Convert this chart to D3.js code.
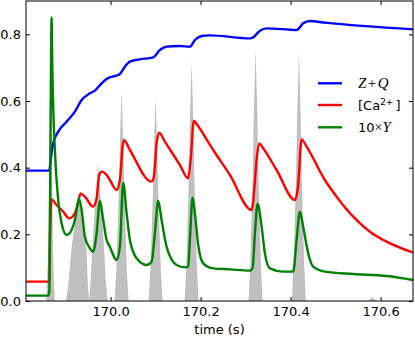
<!DOCTYPE html>
<html>
<head>
<meta charset="utf-8">
<script src="https://cdn.jsdelivr.net/npm/d3@7"></script>
<style>
  body { margin: 0; background: #fff; }
  svg text { font-family: "DejaVu Sans", sans-serif; }
</style>
</head>
<body>
<svg id="chart" width="415" height="338"></svg>
<script>
// tick labels
const xTicks = [170.0, 170.2, 170.4, 170.6];
const yTicks = [0.0, 0.2, 0.4, 0.6, 0.8];

// Z+Q (blue)
const zqTime = [169.812, 169.8636, 169.8665, 169.8724, 169.8836, 169.9022, 169.9207, 169.9356, 169.954, 169.9651,
  169.98, 169.9911, 169.9984, 170.0096, 170.0207, 170.0318, 170.0429, 170.0651, 170.0947, 170.1096,
  170.1244, 170.154, 170.1762, 170.1873, 170.2022, 170.2207, 170.3096, 170.3169, 170.3318, 170.3467,
  170.4133, 170.428, 170.4429, 170.4762, 170.6724];
const zqValue = [0.391, 0.391, 0.42, 0.473, 0.508, 0.538, 0.568, 0.603, 0.623, 0.631,
  0.653, 0.666, 0.671, 0.675, 0.681, 0.703, 0.718, 0.725, 0.731, 0.753,
  0.763, 0.765, 0.763, 0.783, 0.795, 0.797, 0.788, 0.791, 0.811, 0.818,
  0.813, 0.833, 0.840, 0.835, 0.815];

// [Ca2+] (red)
const caTime = [169.812, 169.864, 169.8655, 169.8689, 169.88, 169.8947, 169.908, 169.9169, 169.9258, 169.9333,
  169.9429, 169.9613, 169.9689, 169.9747, 169.98, 169.9911, 169.9984, 170.0133, 170.0207, 170.0267,
  170.0296, 170.0429, 170.0911, 170.0962, 170.1022, 170.108, 170.1207, 170.154, 170.1724, 170.1778,
  170.1851, 170.1911, 170.228, 170.2651, 170.3133, 170.3169, 170.3244, 170.3302, 170.3391, 170.3689,
  170.4096, 170.4169, 170.4244, 170.4356, 170.4762, 170.5022, 170.5391, 170.5762, 170.6133, 170.6724];
const caValue = [0.058, 0.058, 0.2, 0.305, 0.288, 0.268, 0.248, 0.255, 0.283, 0.323,
  0.313, 0.283, 0.308, 0.378, 0.388, 0.378, 0.363, 0.333, 0.363, 0.463,
  0.483, 0.453, 0.358, 0.373, 0.473, 0.505, 0.478, 0.408, 0.368, 0.423,
  0.541, 0.531, 0.453, 0.378, 0.273, 0.30, 0.423, 0.473, 0.458, 0.393,
  0.303, 0.348, 0.485, 0.463, 0.363, 0.313, 0.253, 0.208, 0.178, 0.145];

// 10 x Y (green)
const yTime = [169.812, 169.8613, 169.864, 169.8665, 169.8689, 169.8705, 169.8762, 169.8836, 169.8911, 169.9022,
  169.9133, 169.9207, 169.9296, 169.9356, 169.9429, 169.954, 169.9613, 169.9689, 169.9762, 169.9836,
  169.9911, 169.9984, 170.0096, 170.0133, 170.0207, 170.028, 170.0356, 170.0429, 170.0578, 170.08,
  170.0911, 170.0984, 170.1058, 170.1133, 170.1244, 170.1467, 170.1651, 170.1724, 170.1762, 170.1822,
  170.1873, 170.1947, 170.2058, 170.228, 170.2651, 170.3096, 170.3156, 170.3207, 170.3267, 170.3356,
  170.3429, 170.354, 170.3836, 170.4058, 170.4133, 170.4207, 170.428, 170.4391, 170.4502, 170.4762,
  170.5391, 170.6133, 170.6724];
const yValue = [0.016, 0.016, 0.03, 0.5, 0.851, 0.70, 0.453, 0.303, 0.233, 0.198,
  0.213, 0.243, 0.308, 0.273, 0.193, 0.158, 0.148, 0.203, 0.300, 0.243,
  0.183, 0.163, 0.128, 0.123, 0.163, 0.355, 0.263, 0.183, 0.128, 0.108,
  0.118, 0.203, 0.301, 0.243, 0.163, 0.108, 0.101, 0.103, 0.183, 0.311,
  0.263, 0.168, 0.113, 0.098, 0.095, 0.091, 0.10, 0.203, 0.291, 0.223,
  0.143, 0.098, 0.088, 0.088, 0.183, 0.268, 0.223, 0.143, 0.103, 0.088,
  0.081, 0.075, 0.063];

// grey histogram spikes
const spikeTime = [
  169.857, 169.8605, 169.8638, 169.865, 169.8665, 169.868, 169.8692, 169.8725, 169.876,
  169.9007, 169.9056, 169.9129, 169.9207, 169.9296, 169.9385, 169.9463, 169.9496, 169.9524,
  169.9554, 169.9614, 169.9684, 169.9724, 169.9764, 169.9834, 169.9894, 169.9935,
  170.0088, 170.0126, 170.0181, 170.0207, 170.0244, 170.0281, 170.0307, 170.0362, 170.04,
  170.0844, 170.0882, 170.0937, 170.0963, 170.1, 170.1037, 170.1063, 170.1118, 170.1156,
  170.1644, 170.1682, 170.1737, 170.1763, 170.18, 170.1837, 170.1863, 170.1918, 170.1956,
  170.3066, 170.3104, 170.3159, 170.3185, 170.3222, 170.3259, 170.3285, 170.334, 170.3378,
  170.4028, 170.4066, 170.4121, 170.4147, 170.4184, 170.4221, 170.4247, 170.4302, 170.434,
  170.5718, 170.5818, 170.5918];
const spikeValue = [
  0, 0.12, 0.42, 0.63, 0.84, 0.63, 0.42, 0.12, 0,
  0, 0.043, 0.155, 0.233, 0.31, 0.233, 0.155, 0.043, 0,
  0.06, 0.205, 0.34, 0.41, 0.34, 0.205, 0.06, 0,
  0, 0.088, 0.314, 0.471, 0.628, 0.471, 0.314, 0.088, 0,
  0, 0.085, 0.305, 0.458, 0.61, 0.458, 0.305, 0.085, 0,
  0, 0.10, 0.36, 0.54, 0.72, 0.54, 0.36, 0.10, 0,
  0, 0.106, 0.379, 0.569, 0.758, 0.569, 0.379, 0.106, 0,
  0, 0.105, 0.374, 0.561, 0.748, 0.561, 0.374, 0.105, 0,
  0, 0.012, 0];

const seriesColors = ['#0000ff', '#ff0000', '#008000'];

/* Layout */
const plotL = 26, plotR = 413, plotT = 1, plotB = 301;
const svg = d3.select('#chart');

const x = d3.scaleLinear().domain([169.812, 170.672]).range([plotL, plotR]);
const y = d3.scaleLinear().domain([0, 0.9]).range([plotB, plotT]);

const zip = (ts, vs) => ts.map((t, i) => [t, vs[i]]);

// grey spikes
svg.append('path')
  .datum(zip(spikeTime, spikeValue))
  .attr('fill', '#bfbfbf')
  .attr('d', d3.area().x(d => x(d[0])).y0(y(0)).y1(d => y(d[1])));

// lines
const line = d3.line().x(d => x(d[0])).y(d => y(d[1])).curve(d3.curveMonotoneX);
[[zqTime, zqValue], [caTime, caValue], [yTime, yValue]].forEach((s, i) => {
  svg.append('path')
    .datum(zip(s[0], s[1]))
    .attr('fill', 'none')
    .attr('stroke', seriesColors[i])
    .attr('stroke-width', 2.4)
    .attr('stroke-linejoin', 'round')
    .attr('d', line);
});

// axes, ticks point inward
const fmt = d3.format('.1f');
const gx = svg.append('g').attr('transform', `translate(0,${plotB})`)
  .call(d3.axisBottom(x).tickValues(xTicks).tickFormat(fmt).tickSizeInner(-4).tickSizeOuter(0).tickPadding(6));
const gxt = svg.append('g').attr('transform', `translate(0,${plotT})`)
  .call(d3.axisTop(x).tickValues(xTicks).tickFormat('').tickSizeInner(-4).tickSizeOuter(0));
const gy = svg.append('g').attr('transform', `translate(${plotL},0)`)
  .call(d3.axisLeft(y).tickValues(yTicks).tickFormat(fmt).tickSizeInner(-4).tickSizeOuter(0).tickPadding(5));
const gyr = svg.append('g').attr('transform', `translate(${plotR},0)`)
  .call(d3.axisRight(y).tickValues(yTicks).tickFormat('').tickSizeInner(-4).tickSizeOuter(0));
[gx, gxt, gy, gyr].forEach(g => {
  g.select('.domain').remove();
  g.selectAll('text').attr('font-size', 13).attr('font-family', '"DejaVu Sans", sans-serif').attr('fill', '#000');
  g.selectAll('line').attr('stroke', '#000');
});

svg.append('rect')
  .attr('x', plotL).attr('y', plotT)
  .attr('width', plotR - plotL).attr('height', plotB - plotT)
  .attr('fill', 'none').attr('stroke', '#000').attr('stroke-width', 1);

svg.append('text')
  .attr('x', (plotL + plotR) / 2).attr('y', 334)
  .attr('text-anchor', 'middle').attr('font-size', 13)
  .text('time (s)');

// legend
const legY = [83.3, 105, 127.3];
const serif = '"Liberation Serif", "DejaVu Serif", serif';
const leg = svg.append('g');
legY.forEach((ly, i) => {
  leg.append('line')
    .attr('x1', 318).attr('x2', 342).attr('y1', ly).attr('y2', ly)
    .attr('stroke', seriesColors[i]).attr('stroke-width', 2.4);
});

let t0 = leg.append('text').attr('x', 358).attr('y', legY[0] + 5).attr('font-size', 13);
t0.append('tspan').attr('font-family', serif).attr('font-style', 'italic').attr('font-size', 15).text('Z');
t0.append('tspan').attr('font-family', serif).attr('font-size', 15).attr('dx', 1.5).text('+');
t0.append('tspan').attr('font-family', serif).attr('font-style', 'italic').attr('font-size', 15).attr('dx', 1.5).text('Q');

let t1 = leg.append('text').attr('x', 358).attr('y', legY[1] + 5).attr('font-size', 13);
t1.append('tspan').text('[Ca');
t1.append('tspan').attr('font-size', 9).attr('dy', -5).text('2+');
t1.append('tspan').attr('dy', 5).attr('dx', 2).text(']');

let t2 = leg.append('text').attr('x', 358).attr('y', legY[2] + 5).attr('font-size', 13);
t2.append('tspan').text('10');
t2.append('tspan').attr('font-family', serif).attr('font-size', 14).text('×');
t2.append('tspan').attr('font-family', serif).attr('font-style', 'italic').attr('font-size', 15).text('Y');
</script>
</body>
</html>
